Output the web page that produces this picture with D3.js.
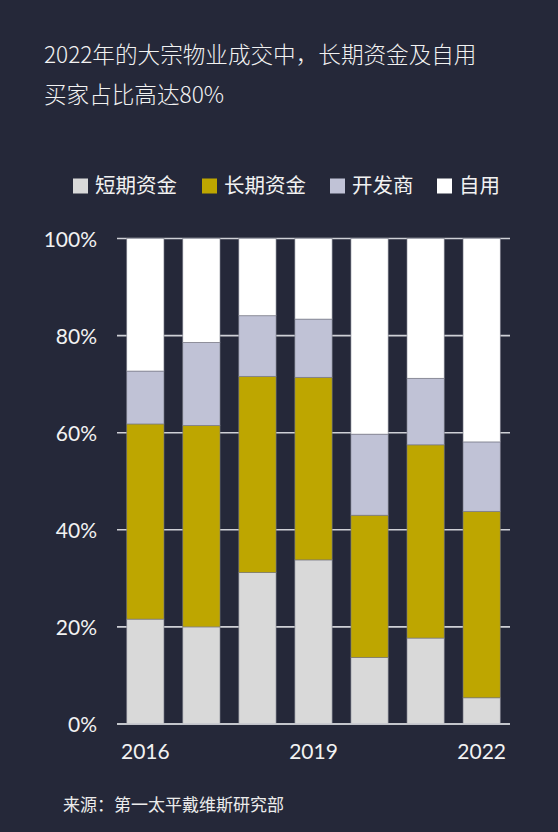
<!DOCTYPE html>
<html>
<head>
<meta charset="utf-8">
<script src="https://cdn.jsdelivr.net/npm/d3@7/dist/d3.min.js"></script>
<style>
  html, body { margin: 0; padding: 0; background: #252839; }
  svg { display: block; }
</style>
</head>
<body>
<script>
// Buyer mix of commercial property deals by year (shares, %)
const years = ["2016", "2017", "2018", "2019", "2020", "2021", "2022"];
const seriesNames = ["短期资金", "长期资金", "开发商", "自用"];
const shortTerm = [21.6, 20.0, 31.2, 33.8, 13.7, 17.7, 5.4];
const longTerm  = [40.2, 41.5, 40.4, 37.6, 29.3, 39.8, 38.4];
const developer = [10.9, 17.1, 12.5, 12.0, 16.7, 13.7, 14.3];
const ownerUse  = [27.3, 21.4, 15.9, 16.6, 40.3, 28.8, 41.9];
const yTicks = [0, 20, 40, 60, 80, 100];
const xTickLabels = ["2016", "2019", "2022"];

const colors = ["#d9d9d9", "#bea600", "#c0c2d6", "#ffffff"];

const W = 558, H = 832;
const svg = d3.select("body").append("svg").attr("width", W).attr("height", H);
svg.append("rect").attr("width", W).attr("height", H).attr("fill", "#252839");

// Title
const title = svg.append("text")
  .attr("fill", "#f2f2f2")
  .style("font-family", "'Noto Sans CJK SC', 'Noto Sans', sans-serif")
  .style("font-size", "22.6px")
  .style("font-weight", 300);
title.append("tspan").attr("x", 44).attr("y", 63).text("2022年的大宗物业成交中，长期资金及自用");
title.append("tspan").attr("x", 44).attr("y", 103).text("买家占比高达80%");

// Legend
const legendX = [73, 202, 330, 437];
const legend = svg.append("g");
seriesNames.forEach((name, i) => {
  legend.append("rect")
    .attr("x", legendX[i]).attr("y", 178.5)
    .attr("width", 15).attr("height", 15)
    .attr("fill", colors[i]);
  legend.append("text")
    .attr("x", legendX[i] + 22).attr("y", 193)
    .attr("fill", "#f2f2f2")
    .style("font-family", "'Noto Sans CJK SC', sans-serif")
    .style("font-size", "20.5px")
    .text(name);
});

// Scales
const x = d3.scaleBand().domain(years).range([117, 510]).paddingInner(0.335).paddingOuter(0.173);
const y = d3.scaleLinear().domain([0, 100]).range([724, 238.5]);

// Gridlines
svg.append("g").selectAll("line").data(yTicks).join("line")
  .attr("x1", 117).attr("x2", 510)
  .attr("y1", d => y(d)).attr("y2", d => y(d))
  .attr("stroke", "#cfd0d6")
  .attr("stroke-width", 1.6);

// Y axis labels
const yAxis = d3.axisLeft(y).tickValues(yTicks).tickFormat(d => d + "%").tickSize(0).tickPadding(0);
const gy = svg.append("g").attr("transform", "translate(97,0)").call(yAxis);
gy.select(".domain").remove();
gy.selectAll("text")
  .attr("fill", "#f2f2f2")
  .attr("dy", "0.36em")
  .style("font-family", "Lato, sans-serif")
  .style("font-size", "21px");

// Stacked bars
const rows = years.map((yr, i) => ({
  year: yr,
  "短期资金": shortTerm[i],
  "长期资金": longTerm[i],
  "开发商": developer[i],
  "自用": ownerUse[i]
}));
const stacked = d3.stack().keys(seriesNames)(rows);

svg.append("g").selectAll("g").data(stacked).join("g")
  .attr("fill", (d, i) => colors[i])
  .selectAll("rect").data(d => d).join("rect")
  .attr("x", d => x(d.data.year))
  .attr("width", x.bandwidth())
  .attr("y", d => y(d[1]))
  .attr("height", d => y(d[0]) - y(d[1]))
  .attr("stroke", "rgba(120,122,135,0.75)")
  .attr("stroke-width", 0.8);

// Baseline
svg.append("line")
  .attr("x1", 117).attr("x2", 510)
  .attr("y1", y(0)).attr("y2", y(0))
  .attr("stroke", "#cfd0d6").attr("stroke-width", 1.6);

// X axis labels
const xAxis = d3.axisBottom(x).tickValues(xTickLabels).tickSize(0).tickPadding(0);
const gx = svg.append("g").attr("transform", "translate(0,759)").call(xAxis);
gx.select(".domain").remove();
gx.selectAll("text")
  .attr("fill", "#f2f2f2")
  .attr("dy", 0)
  .style("font-family", "Lato, sans-serif")
  .style("font-size", "21px");

// Source note
svg.append("text")
  .attr("x", 63).attr("y", 811)
  .attr("fill", "#ececec")
  .style("font-family", "'Noto Sans CJK SC', sans-serif")
  .style("font-size", "17px")
  .text("来源：第一太平戴维斯研究部");
</script>
</body>
</html>
